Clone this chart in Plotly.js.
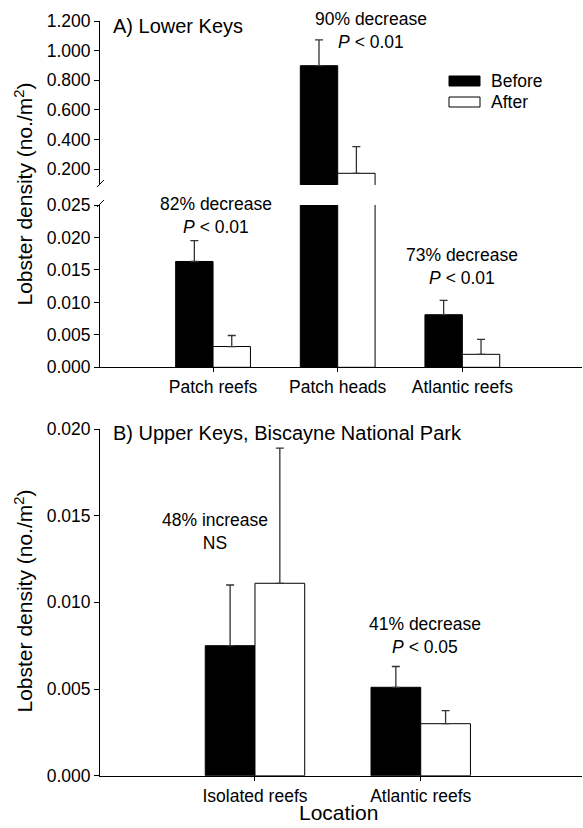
<!DOCTYPE html>
<html>
<head>
<meta charset="utf-8">
<script src="https://cdn.plot.ly/plotly-3.0.1.min.js"></script>
<style>
  html, body { margin: 0; padding: 0; background: #fff; }
  #chart { width: 583px; height: 828px; }
</style>
</head>
<body>
<div id="chart"></div>
<script>
// Panel A: Lower Keys (lobsters per m², mean + 1 SE)
const sitesA = ['Patch reefs', 'Patch heads', 'Atlantic reefs'];
const beforeA = [0.0163, 0.898, 0.0081];
const beforeErrA = [0.0032, 0.174, 0.0022];
const afterA = [0.0032, 0.171, 0.0020];
const afterErrA = [0.0017, 0.180, 0.0023];
const notesA = [
  '82% decrease<br><i>P</i> &lt; 0.01',
  '90% decrease<br><i>P</i> &lt; 0.01',
  '73% decrease<br><i>P</i> &lt; 0.01'
];

// Panel B: Upper Keys, Biscayne National Park
const sitesB = ['Isolated reefs', 'Atlantic reefs'];
const beforeB = [0.0075, 0.0051];
const beforeErrB = [0.0035, 0.0012];
const afterB = [0.0111, 0.0030];
const afterErrB = [0.0078, 0.00075];
const notesB = ['48% increase<br>NS', '41% decrease<br><i>P</i> &lt; 0.05'];

const seriesNames = ['Before', 'After'];
const panelTitles = ['A) Lower Keys', 'B) Upper Keys, Biscayne National Park'];
const yTitle = 'Lobster density (no./m<sup>2</sup>)';
const xTitle = 'Location';

// ---- page geometry helpers (pixels -> paper fractions) ----
const W = 583, H = 828;
const fx = p => p / W;
const fy = p => 1 - p / H;

const FONT = 'Liberation Sans, Arial, Helvetica, sans-serif';
const INK = '#000';
const fills = ['#000', '#fff'];

function barTrace(x, y, err, name, fill, xa, ya) {
  return {
    type: 'bar', x: x, y: y, name: name,
    xaxis: xa, yaxis: ya,
    marker: { color: fill, line: { color: INK, width: 1 } },
    error_y: {
      type: 'data', symmetric: false, array: err, arrayminus: [],
      color: '#333', thickness: 1.3, width: 4
    },
    showlegend: false, hoverinfo: 'skip'
  };
}

const traces = [
  // Panel A, lower (0-0.025) part
  barTrace(sitesA, beforeA, beforeErrA, seriesNames[0], fills[0], 'x2', 'y2'),
  barTrace(sitesA, afterA, afterErrA, seriesNames[1], fills[1], 'x2', 'y2'),
  // Panel A, upper (0.2-1.2) part of the broken axis
  barTrace(sitesA, beforeA, beforeErrA, seriesNames[0], fills[0], 'x3', 'y3'),
  barTrace(sitesA, afterA, afterErrA, seriesNames[1], fills[1], 'x3', 'y3'),
  // Panel B
  barTrace(sitesB, beforeB, beforeErrB, seriesNames[0], fills[0], 'x', 'y'),
  barTrace(sitesB, afterB, afterErrB, seriesNames[1], fills[1], 'x', 'y')
];

const tickFont = { family: FONT, size: 17.5, color: INK };
const xDomain = [fx(100), fx(582)];

const xCommon = {
  type: 'category', domain: xDomain, showline: true, linecolor: INK, linewidth: 1,
  ticks: 'outside', ticklen: 4, tickwidth: 1, tickcolor: INK,
  showgrid: false, zeroline: false, tickfont: tickFont, fixedrange: true
};
const yCommon = {
  showline: true, linecolor: INK, linewidth: 1,
  ticks: 'outside', ticklen: 5, tickwidth: 1, tickcolor: INK,
  showgrid: false, zeroline: false, tickfont: tickFont, tickformat: '.3f',
  fixedrange: true
};

const annotations = [];
const noteA_pos = [[216, 215.5], [370.5, 30], [462, 266.5]];
notesA.forEach((t, i) => annotations.push({
  text: t, xref: 'paper', yref: 'paper',
  x: fx(noteA_pos[i][0]), y: fy(noteA_pos[i][1]),
  xanchor: 'center', yanchor: 'middle', showarrow: false,
  font: { family: FONT, size: 17.5, color: INK }
}));
const noteB_pos = [[215, 531], [425, 635]];
notesB.forEach((t, i) => annotations.push({
  text: t, xref: 'paper', yref: 'paper',
  x: fx(noteB_pos[i][0]), y: fy(noteB_pos[i][1]),
  xanchor: 'center', yanchor: 'middle', showarrow: false,
  font: { family: FONT, size: 17.5, color: INK }
}));

// Panel titles
[[26, panelTitles[0]], [433, panelTitles[1]]].forEach(([py, t]) => annotations.push({
  text: t, xref: 'paper', yref: 'paper', x: fx(111), y: fy(py),
  xanchor: 'left', yanchor: 'middle', showarrow: false,
  font: { family: FONT, size: 20, color: INK }
}));

// Y axis titles (one per panel) and the shared x title
[194.5, 601.5].forEach(py => annotations.push({
  text: yTitle, xref: 'paper', yref: 'paper', x: fx(23), y: fy(py),
  xanchor: 'center', yanchor: 'middle', textangle: -90, showarrow: false,
  font: { family: FONT, size: 21, color: INK }
}));
annotations.push({
  text: xTitle, xref: 'paper', yref: 'paper', x: fx(338), y: fy(826),
  xanchor: 'center', yanchor: 'bottom', showarrow: false,
  font: { family: FONT, size: 21, color: INK }
});

// Legend entries: wide swatch + label
const shapes = [];
const legendRows = [81, 102];
seriesNames.forEach((name, i) => {
  const cy = legendRows[i];
  shapes.push({
    type: 'rect', xref: 'paper', yref: 'paper',
    x0: fx(449), x1: fx(480), y0: fy(cy + 5), y1: fy(cy - 5),
    fillcolor: fills[i], line: { color: INK, width: 1 }
  });
  annotations.push({
    text: name, xref: 'paper', yref: 'paper', x: fx(489), y: fy(cy),
    xanchor: 'left', yanchor: 'middle', showarrow: false,
    font: { family: FONT, size: 17.5, color: INK }
  });
});

// Break marks on the split y axis of panel A
[[187, 180], [207, 200]].forEach(([y0, y1]) => shapes.push({
  type: 'line', xref: 'paper', yref: 'paper',
  x0: fx(97), y0: fy(y0), x1: fx(104), y1: fy(y1),
  line: { color: INK, width: 1 }
}));

const layout = {
  width: W, height: H,
  margin: { l: 0, r: 0, t: 0, b: 0 },
  paper_bgcolor: '#fff', plot_bgcolor: 'rgba(0,0,0,0)',
  font: { family: FONT, color: INK },
  barmode: 'group', bargap: 0.4, bargroupgap: 0,
  showlegend: false,
  // Panel B
  xaxis: Object.assign({}, xCommon, { anchor: 'y', range: [-0.935, 1.973], categoryarray: sitesB, categoryorder: 'array' }),
  yaxis: Object.assign({}, yCommon, { anchor: 'x', domain: [fy(775.7), fy(429)], range: [0, 0.02], tick0: 0, dtick: 0.005 }),
  // Panel A lower
  xaxis2: Object.assign({}, xCommon, { anchor: 'y2', range: [-0.907, 2.96], categoryarray: sitesA, categoryorder: 'array' }),
  yaxis2: Object.assign({}, yCommon, { anchor: 'x2', domain: [fy(367.3), fy(205)], range: [0, 0.025], tick0: 0, dtick: 0.005 }),
  // Panel A upper
  xaxis3: Object.assign({}, xCommon, { anchor: 'y3', range: [-0.907, 2.96], categoryarray: sitesA, categoryorder: 'array', visible: false }),
  yaxis3: Object.assign({}, yCommon, { anchor: 'x3', domain: [fy(185), fy(21)], range: [0.092, 1.2], tick0: 0, dtick: 0.2 }),
  annotations: annotations,
  shapes: shapes
};

Plotly.newPlot('chart', traces, layout, { displayModeBar: false, staticPlot: true });
</script>
</body>
</html>
